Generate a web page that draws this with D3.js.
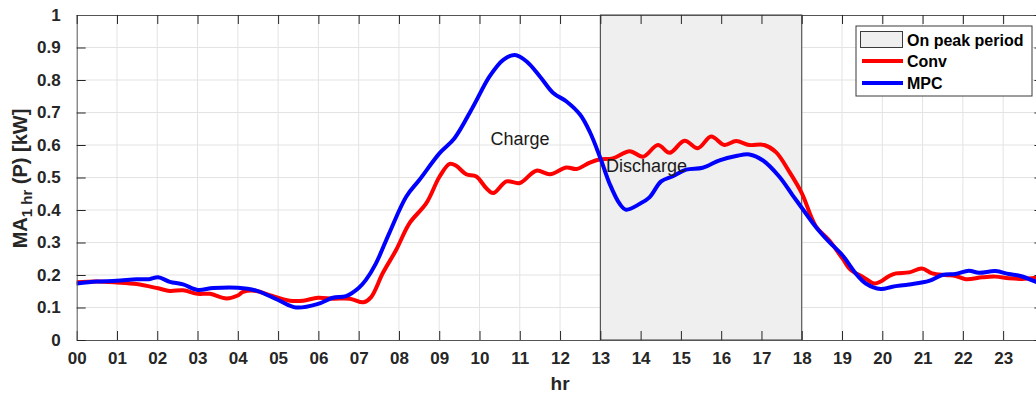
<!DOCTYPE html>
<html>
<head>
<meta charset="utf-8">
<script src="https://cdn.jsdelivr.net/npm/d3@7"></script>
<style>
  body { margin: 0; background: #fff; }
  svg { display: block; font-family: "Liberation Sans", Arial, Helvetica, sans-serif; }
</style>
</head>
<body>
<svg id="chart" width="1036" height="399"></svg>
<script>
// Hour-of-day ticks and power ticks
const xTickValues = d3.range(0, 24);
const xTickLabels = ["00","01","02","03","04","05","06","07","08","09","10","11",
                     "12","13","14","15","16","17","18","19","20","21","22","23"];
const yTickValues = [0, 0.1, 0.2, 0.3, 0.4, 0.5, 0.6, 0.7, 0.8, 0.9, 1];
const yTickLabels = ["0","0.1","0.2","0.3","0.4","0.5","0.6","0.7","0.8","0.9","1"];

// On-peak window [start hour, end hour]
const peakPeriod = [13, 18];

// Conventional control: 1-hour moving average of power (kW)
const convHours = [0, 0.5, 0.99, 1.49, 2.02, 2.31, 2.64, 3.0, 3.31, 3.72, 4.0, 4.13, 4.46, 4.79,
  5.29, 5.62, 5.99, 6.36, 6.78, 7.12, 7.31, 7.6, 7.93, 8.26, 8.68, 9.01, 9.26, 9.42, 9.67,
  9.92, 10.17, 10.34, 10.67, 11.0, 11.41, 11.75, 12.16, 12.41, 12.74, 13.0, 13.31, 13.73,
  14.06, 14.43, 14.72, 15.09, 15.42, 15.75, 16.08, 16.37, 16.7, 17.07, 17.36, 17.69, 18.0,
  18.35, 18.68, 19.01, 19.22, 19.51, 19.8, 19.96, 20.17, 20.34, 20.67, 20.98, 21.24, 21.57,
  21.82, 22.07, 22.48, 22.81, 23.14, 23.47, 23.95];
const convValues = [0.178, 0.180, 0.177, 0.172, 0.159, 0.151, 0.153, 0.142, 0.142, 0.128, 0.137,
  0.148, 0.151, 0.138, 0.121, 0.121, 0.130, 0.127, 0.127, 0.116, 0.132, 0.206, 0.277, 0.359,
  0.421, 0.503, 0.542, 0.536, 0.510, 0.503, 0.467, 0.452, 0.488, 0.483, 0.521, 0.510, 0.531,
  0.526, 0.546, 0.556, 0.559, 0.581, 0.564, 0.600, 0.576, 0.613, 0.590, 0.626, 0.600, 0.612,
  0.600, 0.600, 0.578, 0.518, 0.452, 0.350, 0.307, 0.251, 0.215, 0.195, 0.174, 0.180, 0.197,
  0.205, 0.208, 0.220, 0.205, 0.200, 0.197, 0.187, 0.193, 0.195, 0.190, 0.188, 0.193];

// MPC control: 1-hour moving average of power (kW)
const mpcHours = [0, 0.5, 0.99, 1.49, 1.8, 2.02, 2.31, 2.64, 3.0, 3.39, 4.0, 4.46, 5.0, 5.45,
  5.99, 6.36, 6.69, 7.0, 7.18, 7.43, 7.76, 8.18, 8.51, 9.01, 9.38, 9.84, 10.25, 10.59, 10.88,
  11.17, 11.5, 11.83, 12.16, 12.5, 12.74, 13.0, 13.23, 13.48, 13.64, 13.98, 14.22, 14.51,
  14.8, 15.13, 15.54, 15.96, 16.37, 16.7, 17.03, 17.44, 17.77, 18.0, 18.35, 18.68, 19.01,
  19.34, 19.59, 19.96, 20.25, 20.67, 21.16, 21.49, 21.82, 22.15, 22.4, 22.81, 23.14, 23.43,
  23.95];
const mpcValues = [0.174, 0.180, 0.182, 0.187, 0.187, 0.193, 0.179, 0.171, 0.154, 0.160, 0.161,
  0.152, 0.123, 0.100, 0.111, 0.130, 0.135, 0.160, 0.185, 0.236, 0.329, 0.441, 0.493, 0.575,
  0.621, 0.718, 0.811, 0.862, 0.877, 0.857, 0.811, 0.760, 0.734, 0.693, 0.640, 0.560, 0.481,
  0.419, 0.401, 0.419, 0.439, 0.488, 0.504, 0.524, 0.530, 0.553, 0.566, 0.571, 0.553, 0.503,
  0.446, 0.407, 0.348, 0.302, 0.261, 0.205, 0.174, 0.157, 0.164, 0.171, 0.182, 0.200, 0.203,
  0.213, 0.207, 0.212, 0.203, 0.197, 0.172];

const seriesNames = ["Conv", "MPC"];
const seriesColors = ["#ff0000", "#0000ff"];
const legendPatchLabel = "On peak period";

// ---- layout ----
const svg = d3.select("#chart");
const plotLeft = 76.7, plotTop = 15, plotBottom = 340;
const x = d3.scaleLinear().domain([0, 24]).range([plotLeft, plotLeft + 24 * 40.28]);
const y = d3.scaleLinear().domain([0, 1]).range([plotBottom, plotTop]);
const plotRight = x.range()[1];
const axisColor = "#262626";

svg.append("defs").append("clipPath").attr("id", "plotClip")
  .append("rect").attr("x", plotLeft).attr("y", plotTop)
  .attr("width", plotRight - plotLeft).attr("height", plotBottom - plotTop);

// grid
const grid = svg.append("g");
grid.selectAll("line.gx").data(xTickValues.slice(1)).join("line").attr("class", "gx")
  .attr("x1", d => x(d)).attr("x2", d => x(d)).attr("y1", plotTop).attr("y2", plotBottom)
  .attr("stroke", "#e3e3e3").attr("stroke-width", 1);
grid.selectAll("line.gy").data(yTickValues.slice(1, -1)).join("line").attr("class", "gy")
  .attr("x1", plotLeft).attr("x2", plotRight).attr("y1", d => y(d)).attr("y2", d => y(d))
  .attr("stroke", "#e3e3e3").attr("stroke-width", 1);

// on-peak shaded period
svg.append("rect")
  .attr("x", x(peakPeriod[0])).attr("y", plotTop)
  .attr("width", x(peakPeriod[1]) - x(peakPeriod[0])).attr("height", plotBottom - plotTop)
  .attr("fill", "#efefef").attr("stroke", "#3a3a3a").attr("stroke-width", 1);

// series lines
const line = d3.line().x(d => x(d[0])).y(d => y(d[1])).curve(d3.curveCatmullRom.alpha(0.5));
const convData = d3.zip(convHours, convValues);
const mpcData = d3.zip(mpcHours, mpcValues);
const lines = svg.append("g").attr("clip-path", "url(#plotClip)");
[convData, mpcData].forEach((data, i) => {
  lines.append("path").datum(data).attr("d", line)
    .attr("fill", "none").attr("stroke", seriesColors[i]).attr("stroke-width", 4)
    .attr("stroke-linejoin", "round").attr("stroke-linecap", "round");
});

// axes
const tickFont = "bold 17px 'Liberation Sans', Arial, sans-serif";
const xAxis = d3.axisBottom(x).tickValues(xTickValues).tickFormat((d, i) => xTickLabels[i])
  .tickSizeInner(-9).tickSizeOuter(0).tickPadding(12);
const yAxis = d3.axisLeft(y).tickValues(yTickValues).tickFormat((d, i) => yTickLabels[i])
  .tickSizeInner(-9).tickSizeOuter(0).tickPadding(16);
const xTop = d3.axisTop(x).tickValues(xTickValues).tickFormat("").tickSizeInner(-9).tickSizeOuter(0);
const yRight = d3.axisRight(y).tickValues(yTickValues).tickFormat("").tickSizeInner(-9).tickSizeOuter(0);

function styleAxis(g) {
  g.select(".domain").attr("stroke", "#555").attr("stroke-width", 1);
  g.selectAll(".tick line").attr("stroke", axisColor).attr("stroke-width", 1);
  g.selectAll(".tick text").attr("fill", axisColor).style("font", tickFont);
}
svg.append("g").attr("transform", `translate(0,${plotBottom})`).call(xAxis).call(styleAxis);
svg.append("g").attr("transform", `translate(${plotLeft},0)`).call(yAxis).call(styleAxis);
svg.append("g").attr("transform", `translate(0,${plotTop})`).call(xTop).call(styleAxis);
svg.append("g").attr("transform", `translate(${plotRight},0)`).call(yRight).call(styleAxis);

// axis labels
svg.append("text").attr("x", x(12)).attr("y", 390).attr("text-anchor", "middle")
  .attr("fill", axisColor).style("font", "bold 19px 'Liberation Sans', Arial, sans-serif").text("hr");
const yl = svg.append("text").attr("transform", `translate(27,178.5) rotate(-90)`)
  .attr("text-anchor", "middle").attr("fill", axisColor)
  .style("font", "bold 20px 'Liberation Sans', Arial, sans-serif");
yl.append("tspan").text("MA");
yl.append("tspan").attr("dy", 5).style("font-size", "15px").text("1 hr");
yl.append("tspan").attr("dy", -5).text(" (P) [kW]");

// annotations
const noteFont = "18px 'Liberation Sans', Arial, sans-serif";
svg.append("text").attr("x", 490.5).attr("y", 145).attr("fill", "#1a1a1a").style("font", noteFont).text("Charge");
svg.append("text").attr("x", 606).attr("y", 171.5).attr("fill", "#1a1a1a").style("font", noteFont).text("Discharge");

// legend
const lg = svg.append("g");
lg.append("rect").attr("x", 856).attr("y", 26).attr("width", 176).attr("height", 70)
  .attr("fill", "#fff").attr("stroke", "#3a3a3a").attr("stroke-width", 1);
const legendFont = "bold 16px 'Liberation Sans', Arial, sans-serif";
lg.append("rect").attr("x", 860.5).attr("y", 31.5).attr("width", 42).attr("height", 16)
  .attr("fill", "#efefef").attr("stroke", "#3a3a3a").attr("stroke-width", 1);
lg.append("text").attr("x", 907).attr("y", 46).attr("fill", "#000").style("font", legendFont).text(legendPatchLabel);
seriesNames.forEach((name, i) => {
  const yy = 61 + i * 22;
  lg.append("line").attr("x1", 862).attr("x2", 903).attr("y1", yy).attr("y2", yy)
    .attr("stroke", seriesColors[i]).attr("stroke-width", 4);
  lg.append("text").attr("x", 907).attr("y", yy + 6).attr("fill", "#000").style("font", legendFont).text(name);
});
</script>
</body>
</html>
